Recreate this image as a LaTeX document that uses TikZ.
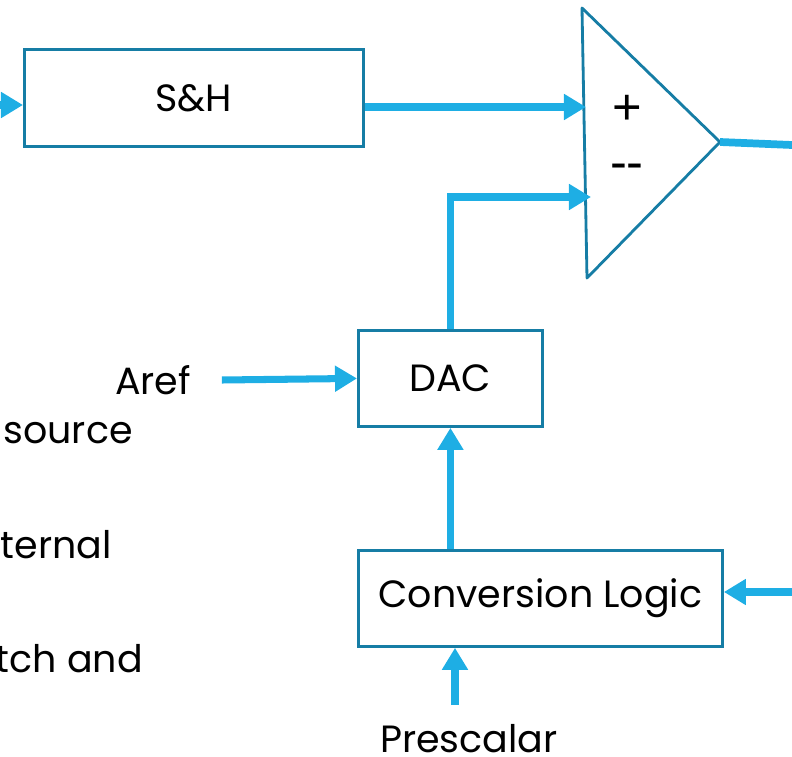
\documentclass[tikz,border=0pt]{standalone}
\usepackage{fontspec}
\setmainfont{Poppins}
\newfontfamily\signfont{Liberation Sans}
\usetikzlibrary{arrows.meta}
\definecolor{boxline}{RGB}{22,125,165}
\definecolor{wire}{RGB}{30,174,228}

\begin{document}
\begin{tikzpicture}[x=0.025cm,y=-0.025cm,
  every node/.style={font=\fontsize{27}{32}\selectfont},
  blk/.style={draw=boxline,line width=2pt,inner sep=0pt,anchor=north west},
  cut/.style={anchor=base east,inner xsep=0pt},
  sign/.style={font=\signfont\fontsize{36}{36}\selectfont},
  sig/.style={draw=wire,line width=5pt,-{Triangle[length=0.55cm,width=0.62cm]}}]
\useasboundingbox (0,0) rectangle (792,757);
% blocks
\node[blk,minimum width=8.475cm,minimum height=2.425cm] (sh) at (23,48) {S\&H};
\node[blk,minimum width=4.6cm,minimum height=2.4cm] (dac) at (357,329) {DAC};
\node[blk,minimum width=9.1cm,minimum height=2.4cm] (cl) at (357,549) {Conversion Logic};
% comparator
\draw[boxline,line width=2pt,line join=round] (582,8) coordinate (ctop) -- (720,142) coordinate (cout) -- (587,278) coordinate (cbot) -- cycle;
\node[sign] (plus) at (627,110) {+};
\node[sign] (minus) at (627,172) {-\kern-0.02em-};
% labels
\node (aref) at (153,380) {Aref};
\node (pre) at (469,739) {Prescalar};
\node[cut] (t1) at (133,443) {source};
\node[cut] (t2) at (112,558) {ternal};
\node[cut] (t3) at (143,672) {tch and};
% free ends
\coordinate (in) at (0,105);
\coordinate (pin) at (586,107);
\coordinate (nin) at (591,197);
\coordinate (outend) at (792,145);
\coordinate (clk) at (792,592);
\coordinate (prs) at (455,705);
% connectors
\draw[sig] (in) -- (in -| sh.west);
\draw[sig] (pin -| sh.east) -- (pin);
\draw[sig] (dac.north) |- (nin);
\draw[draw=wire,line width=5.5pt] (cout) -- (outend);
\draw[sig] ([xshift=0.65cm]aref.east) -- (dac.west);
\draw[sig] (cl.north -| dac.south) -- (dac.south);
\draw[sig] (clk) -- (clk -| cl.east);
\draw[sig] (prs) -- (prs |- cl.south);
\end{tikzpicture}
\end{document}
